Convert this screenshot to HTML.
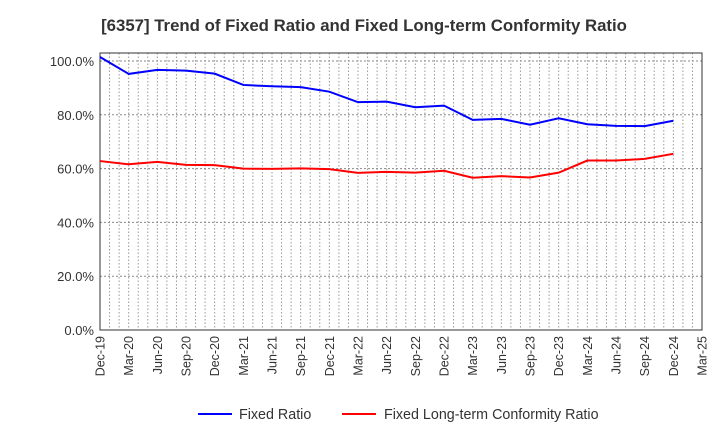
<!DOCTYPE html>
<html><head><meta charset="utf-8"><style>
body{margin:0;background:#fff;font-family:"Liberation Sans",sans-serif}
</style></head><body>
<svg id="c" width="720" height="440" xmlns="http://www.w3.org/2000/svg">
<text x="364" y="31" text-anchor="middle" font-size="16.8" font-weight="bold" fill="#333">[6357]  Trend of Fixed Ratio and Fixed Long-term Conformity Ratio</text>
<g id="grid"></g><g id="axes"></g><g id="series"></g>
<g>
<line x1="198" y1="414" x2="232" y2="414" stroke="#0000ff" stroke-width="2"/>
<text x="239" y="419" font-size="14.3" fill="#333">Fixed Ratio</text>
<line x1="342" y1="414" x2="376" y2="414" stroke="#ff0000" stroke-width="2"/>
<text x="384" y="419" font-size="14.3" fill="#333">Fixed Long-term Conformity Ratio</text>
</g>
</svg>
<script>
const categories=["Dec-19","Mar-20","Jun-20","Sep-20","Dec-20","Mar-21","Jun-21","Sep-21","Dec-21","Mar-22","Jun-22","Sep-22","Dec-22","Mar-23","Jun-23","Sep-23","Dec-23","Mar-24","Jun-24","Sep-24","Dec-24","Mar-25"];
const fixedRatio=[101.5,95.2,96.7,96.4,95.3,91.1,90.6,90.3,88.6,84.7,84.9,82.8,83.4,78.1,78.5,76.3,78.7,76.5,75.9,75.8,77.8];
const conformityRatio=[62.8,61.6,62.5,61.4,61.3,60.0,59.9,60.1,59.8,58.4,58.8,58.5,59.2,56.6,57.2,56.7,58.5,63.0,63.0,63.6,65.5];
const yTicks=[0,20,40,60,80,100];
const L=100,R=702,T=53,B=330,Y0=330,PX=2.69;
const NS="http://www.w3.org/2000/svg";
const xs=i=>L+i*(R-L)/(categories.length-1);
const ys=v=>Y0-v*PX;
function mk(t,a,p){const e=document.createElementNS(NS,t);for(const k in a)e.setAttribute(k,a[k]);p.appendChild(e);return e;}
const g=document.getElementById('grid'),ax=document.getElementById('axes'),s=document.getElementById('series');
for(let m=1;m<(categories.length-1)*3;m++){const x=L+m*(R-L)/((categories.length-1)*3);
const l=mk('line',{x1:x,y1:T,x2:x,y2:B,stroke:'#999','stroke-dasharray':'1.5,2','stroke-width':1},g);

}
yTicks.forEach(v=>{const y=ys(v);
if(v>0){const l=mk('line',{x1:L,y1:y,x2:R,y2:y,stroke:'#888','stroke-dasharray':'2,2','stroke-width':1},g);

}
const t=mk('text',{x:L-6,y:y+5,'text-anchor':'end','font-size':13,fill:'#333'},ax);t.textContent=v.toFixed(1)+'%';

});
const fr=mk('rect',{x:L,y:T,width:R-L,height:B-T,fill:'none',stroke:'#333','stroke-width':1},ax);


categories.forEach((c,i)=>{const x=xs(i);const t=mk('text',{transform:`translate(${x+4.5},${B+6}) rotate(-90)`,'text-anchor':'end','font-size':12.5,fill:'#333'},ax);t.textContent=c;

});
function line(d,col,name){const p=mk('polyline',{points:d.map((v,i)=>xs(i)+','+ys(v)).join(' '),fill:'none',stroke:col,'stroke-width':2},s);

}
line(fixedRatio,'#0000ff','fixed-ratio-line');
line(conformityRatio,'#ff0000','conformity-ratio-line');
</script>
</body></html>
